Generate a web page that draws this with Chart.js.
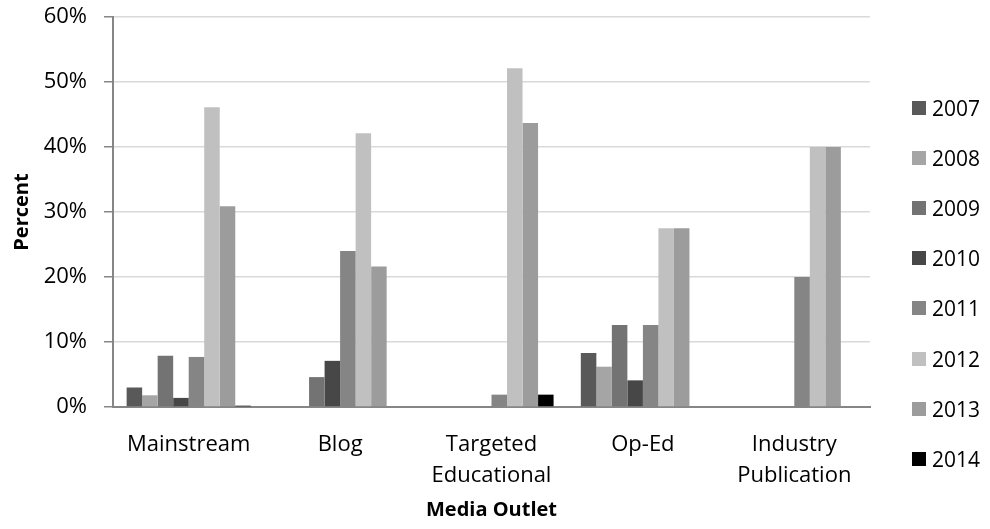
<!DOCTYPE html>
<html>
<head>
<meta charset="utf-8">
<script src="https://cdn.jsdelivr.net/npm/chart.js@4.4.1/dist/chart.umd.min.js"></script>
<style>
    html, body { margin: 0; padding: 0; background: #fff; }
    #wrap { position: relative; width: 990px; height: 529px; }
    #legend {
        position: absolute; left: 912px; top: 83px;
        font-family: 'Open Sans', sans-serif; font-size: 21px; color: #000;
    }
    .item { height: 50.1px; display: flex; align-items: center; }
    .swatch { width: 14px; height: 14px; margin-right: 6px; }
</style>
</head>
<body>
<div id="wrap">
    <canvas id="chart" width="990" height="529"></canvas>
    <div id="legend"></div>
</div>
<script>
// Media outlet categories (x axis)
const outlets = ['Mainstream', 'Blog', ['Targeted', 'Educational'], 'Op-Ed', ['Industry', 'Publication']];
const years = ['2007', '2008', '2009', '2010', '2011', '2012', '2013', '2014'];
const yearColors = ['#595959', '#a5a5a5', '#737373', '#474747', '#858585', '#c0c0c0', '#9c9c9c', '#000000'];

// Percent of articles per outlet, one array per year
const pct2007 = [3.0, 0, 0, 8.3, 0];
const pct2008 = [1.8, 0, 0, 6.2, 0];
const pct2009 = [7.9, 4.6, 0, 12.6, 0];
const pct2010 = [1.4, 7.1, 0, 4.1, 0];
const pct2011 = [7.7, 24.0, 1.9, 12.6, 20.0];
const pct2012 = [46.1, 42.1, 52.1, 27.5, 40.0];
const pct2013 = [30.9, 21.6, 43.7, 27.5, 40.0];
const pct2014 = [0.2, 0, 1.9, 0, 0];
const seriesValues = [pct2007, pct2008, pct2009, pct2010, pct2011, pct2012, pct2013, pct2014];

const yTicks = [0, 10, 20, 30, 40, 50, 60];

const font = 'Open Sans';

const chart = new Chart(document.getElementById('chart').getContext('2d'), {
    type: 'bar',
    data: {
        labels: outlets,
        datasets: years.map((year, i) => ({
            label: year,
            data: seriesValues[i],
            backgroundColor: yearColors[i],
            borderWidth: 0,
            categoryPercentage: 0.82,
            barPercentage: 1.0
        }))
    },
    options: {
        responsive: false,
        animation: false,
        layout: {
            padding: { top: 0, right: 120, bottom: 0, left: 0 }
        },
        scales: {
            x: {
                grid: { display: false, drawTicks: false },
                border: { color: '#868686', width: 2 },
                ticks: {
                    color: '#000',
                    padding: 22,
                    font: { family: font, size: 22, lineHeight: 1.41 }
                },
                title: {
                    display: true,
                    text: 'Media Outlet',
                    color: '#000',
                    padding: { top: 0, bottom: 7 },
                    font: { family: font, size: 20, weight: 'bold' }
                },
                afterFit: scale => { scale.height = 122; }
            },
            y: {
                min: 0,
                max: 60,
                afterBuildTicks: scale => {
                    scale.ticks = yTicks.map(v => ({ value: v }));
                },
                grid: {
                    color: '#d9d9d9',
                    lineWidth: 1.5,
                    tickColor: '#868686',
                    tickLength: 9
                },
                border: { color: '#868686', width: 2 },
                ticks: {
                    color: '#000',
                    padding: 17,
                    font: { family: font, size: 22 },
                    callback: v => v + '%'
                },
                title: {
                    display: true,
                    text: 'Percent',
                    color: '#000',
                    padding: { top: 10, bottom: 4 },
                    font: { family: font, size: 20, weight: 'bold' }
                },
                afterFit: scale => {
                    scale.width = 113;
                    scale.paddingTop = 17;
                }
            }
        },
        plugins: {
            legend: { display: false },
            tooltip: { enabled: false }
        }
    }
});

// Legend built from the chart's datasets
const legend = document.getElementById('legend');
chart.data.datasets.forEach(ds => {
    const item = document.createElement('div');
    item.className = 'item';
    item.innerHTML = '<span class="swatch" style="background:' + ds.backgroundColor + '"></span>' + ds.label;
    legend.appendChild(item);
});
</script>
</body>
</html>
